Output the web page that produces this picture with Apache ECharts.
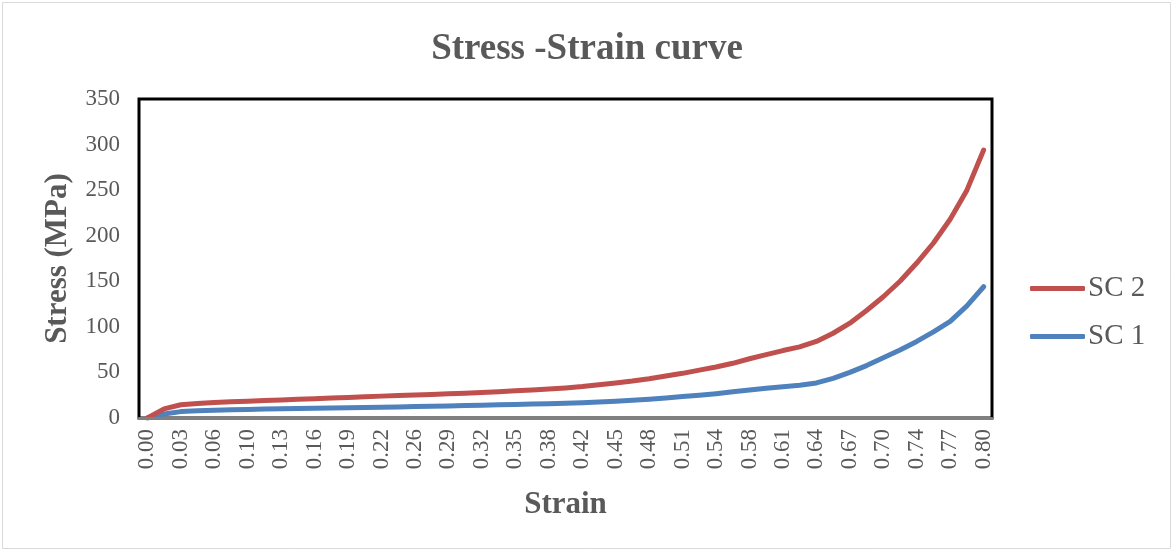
<!DOCTYPE html>
<html>
<head>
<meta charset="utf-8">
<title>Stress -Strain curve</title>
<script src="https://cdn.jsdelivr.net/npm/echarts@6/dist/echarts.min.js"></script>
<style>
  html, body { margin: 0; padding: 0; background: #ffffff; }
  #chart { width: 1174px; height: 552px; }
</style>
</head>
<body>
<div id="chart"></div>
<script>
// Strain categories (every second one is labelled on the axis)
const strain = [
  '0.00', '0.02', '0.03', '0.05', '0.06', '0.08', '0.10', '0.11', '0.13', '0.14',
  '0.16', '0.18', '0.19', '0.21', '0.22', '0.24', '0.26', '0.27', '0.29', '0.30',
  '0.32', '0.34', '0.35', '0.37', '0.38', '0.40', '0.42', '0.43', '0.45', '0.46',
  '0.48', '0.50', '0.51', '0.53', '0.54', '0.56', '0.58', '0.59', '0.61', '0.62',
  '0.64', '0.66', '0.67', '0.69', '0.70', '0.72', '0.74', '0.75', '0.77', '0.78',
  '0.80'
];

// Stress (MPa), specimen SC 1
const sc1 = [
  0, 4.5, 7, 8, 8.6, 9, 9.4, 9.8, 10.1, 10.4,
  10.7, 11, 11.3, 11.6, 11.9, 12.2, 12.5, 12.9, 13.3, 13.7,
  14.1, 14.5, 14.9, 15.3, 15.7, 16.2, 16.8, 17.6, 18.4, 19.4,
  20.6, 22, 23.5, 25, 26.7, 28.7, 30.8, 32.7, 34.2, 36,
  38.5, 43.5, 50, 57.5, 66, 74.6, 84, 94.5, 106, 123,
  144
];

// Stress (MPa), specimen SC 2
const sc2 = [
  0, 10, 14.5, 16, 17, 17.8, 18.5, 19.2, 19.8, 20.5,
  21.2, 21.9, 22.6, 23.3, 24, 24.6, 25.2, 25.8, 26.5, 27.2,
  28, 28.8, 29.8, 30.8, 31.8, 33, 34.5, 36.5, 38.5, 40.5,
  43, 46, 49, 52.5, 56, 60, 65, 69.5, 74, 78,
  84, 93, 104, 118, 133, 150, 170, 192, 218, 250,
  294
];

const yTicks = { min: 0, max: 350, interval: 50 };

const FONT = "'Liberation Serif', 'Times New Roman', serif";
const TEXT = '#595959';
const RED = '#C0504D';
const BLUE = '#4F81BD';

const chart = echarts.init(document.getElementById('chart'), null, { renderer: 'canvas' });

chart.setOption({
  backgroundColor: '#ffffff',
  animation: false,
  graphic: [{
    type: 'rect',
    shape: { x: 2.5, y: 2.5, width: 1168, height: 546 },
    style: { fill: 'none', stroke: '#d9d9d9', lineWidth: 1 },
    silent: true
  }],
  title: {
    text: 'Stress -Strain curve',
    left: 'center',
    top: 26,
    textStyle: { fontFamily: FONT, fontSize: 37, fontWeight: 'bold', color: TEXT }
  },
  legend: {
    orient: 'vertical',
    left: 1030,
    top: 274,
    padding: 0,
    icon: 'roundRect',
    itemWidth: 55,
    itemHeight: 5,
    itemGap: 19,
    data: ['SC 2', 'SC 1'],
    textStyle: { fontFamily: FONT, fontSize: 29, color: TEXT, padding: [0, 0, 0, -2] }
  },
  grid: {
    left: 139,
    top: 99,
    width: 853,
    height: 319,
    show: true,
    borderColor: '#000000',
    borderWidth: 3,
    containLabel: false
  },
  xAxis: {
    type: 'category',
    data: strain,
    boundaryGap: true,
    z: 5,
    name: 'Strain',
    nameLocation: 'middle',
    nameGap: 71,
    nameTextStyle: { fontFamily: FONT, fontSize: 31, fontWeight: 'bold', color: TEXT },
    axisLine: { show: true, lineStyle: { color: '#808080', width: 3 } },
    axisTick: { show: false },
    axisLabel: {
      interval: 1,
      rotate: 90,
      margin: 11,
      fontFamily: FONT,
      fontSize: 23,
      color: TEXT
    },
    splitLine: { show: false }
  },
  yAxis: {
    type: 'value',
    min: yTicks.min,
    max: yTicks.max,
    interval: yTicks.interval,
    name: 'Stress (MPa)',
    nameLocation: 'middle',
    nameGap: 66,
    nameTextStyle: { fontFamily: FONT, fontSize: 31, fontWeight: 'bold', color: TEXT },
    axisLine: { show: false },
    axisTick: { show: false },
    axisLabel: { margin: 19, fontFamily: FONT, fontSize: 23, color: TEXT },
    splitLine: { show: false }
  },
  series: [
    {
      name: 'SC 1',
      type: 'line',
      data: sc1,
      symbol: 'none',
      smooth: false,
      color: BLUE,
      itemStyle: { color: BLUE },
      lineStyle: { width: 5, color: BLUE, cap: 'round', join: 'round' },
      z: 2
    },
    {
      name: 'SC 2',
      type: 'line',
      data: sc2,
      symbol: 'none',
      smooth: false,
      color: RED,
      itemStyle: { color: RED },
      lineStyle: { width: 5, color: RED, cap: 'round', join: 'round' },
      z: 3
    }
  ]
});
</script>
</body>
</html>
